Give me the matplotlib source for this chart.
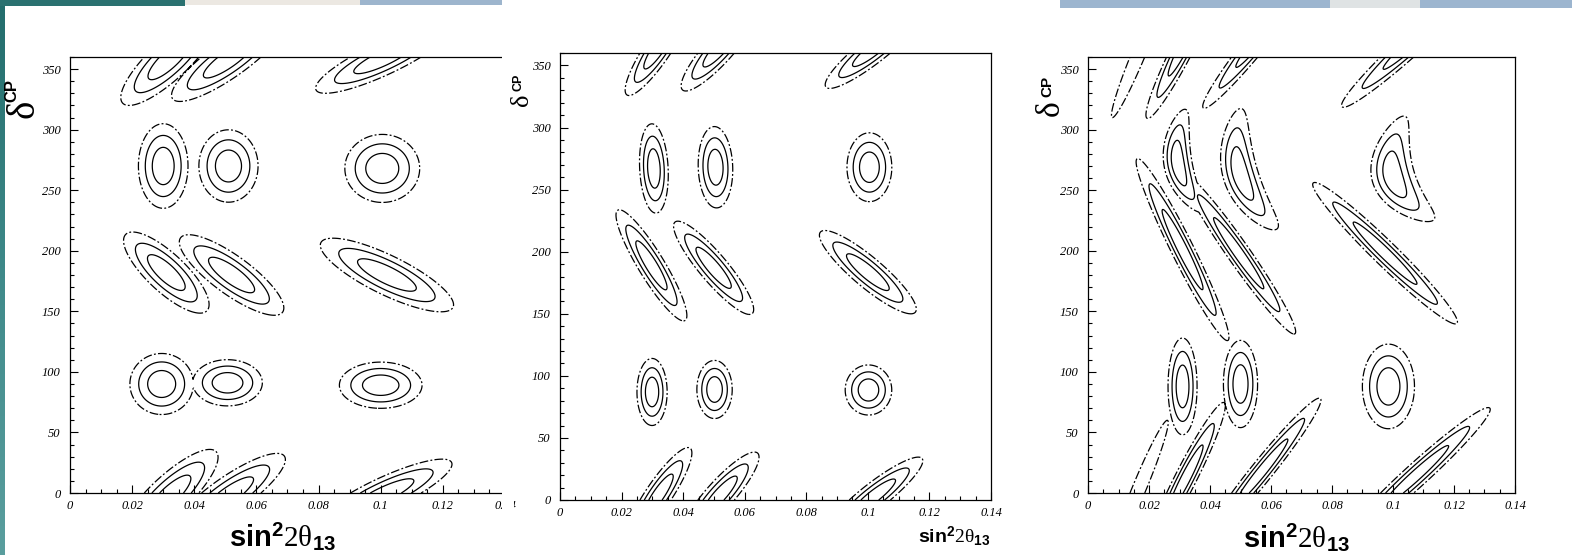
import numpy as np
import matplotlib
matplotlib.use("Agg")
import matplotlib.pyplot as plt
from matplotlib.patches import Rectangle
from matplotlib.ticker import MultipleLocator, FixedLocator, FixedFormatter

plt.rcParams["mathtext.fontset"] = "custom"
plt.rcParams["mathtext.rm"] = "Liberation Serif"
plt.rcParams["mathtext.it"] = "Liberation Serif:italic"
plt.rcParams["mathtext.bf"] = "Liberation Sans:bold"
plt.rcParams["mathtext.sf"] = "Liberation Sans"

W, H = 1572, 555
X_MAX = 0.14
D_MAX = 360.0
CHI2_LEVELS = [2.3, 6.18, 11.83]

X_TICKS = [0, 0.02, 0.04, 0.06, 0.08, 0.10, 0.12, 0.14]
X_TICK_LABELS = ["0", "0.02", "0.04", "0.06", "0.08", "0.1", "0.12", "0.14"]
D_TICKS = [0, 50, 100, 150, 200, 250, 300, 350]
D_TICK_LABELS = ["0", "50", "100", "150", "200", "250", "300", "350"]

# allowed regions: sin^2 2theta13, delta_CP, half length, half width
# (axis fractions, outer contour), tilt (deg), bend, chi2 floor
LEFT_BLOBS = [
    (0.0300, 270, 0.097, 0.057, 90, 0, 0),
    (0.0510, 270, 0.083, 0.068, 90, 0, 0),
    (0.1005, 268, 0.086, 0.078, 0, 0, 0),
    (0.0310, 182, 0.128, 0.044, -43, 0, 0),
    (0.0520, 180, 0.145, 0.044, -36, 0, 0),
    (0.1020, 180, 0.169, 0.045, -26, 0, 0),
    (0.0295, 90, 0.073, 0.070, 0, 0, 0),
    (0.0507, 91, 0.080, 0.053, 0, 0, 0),
    (0.1000, 89, 0.095, 0.053, 0, 0, 0),
    (0.0320, 358, 0.147, 0.045, 43, 0, 0),
    (0.0510, 358, 0.157, 0.042, 35, 0, 0),
    (0.1010, 359, 0.172, 0.038, 25, 0, 0),
]

MIDDLE_BLOBS = [
    (0.0305, 267, 0.100, 0.033, 93, 0, 0),
    (0.0505, 268, 0.091, 0.040, 92, 0, 0),
    (0.1005, 268, 0.077, 0.052, 90, 0, 0),
    (0.0297, 189, 0.146, 0.030, -57.6, 0, 0),
    (0.0499, 187, 0.136, 0.032, -48.7, 0, 0),
    (0.1000, 183.5, 0.142, 0.034, -39, 0, 0),
    (0.0299, 87, 0.075, 0.035, 90, 0, 0),
    (0.0502, 89, 0.065, 0.041, 90, 0, 0),
    (0.1002, 88.6, 0.056, 0.054, 90, 0, 0),
    (0.0320, 364, 0.128, 0.030, 55, 0, 0),
    (0.0520, 364, 0.128, 0.032, 47, 0, 0),
    (0.1020, 363, 0.140, 0.030, 37, 0, 0),
]

RIGHT_BLOBS = [
    (0.0295, 272, 0.120, 0.033, 100, -2.5, 0),
    (0.0500, 263, 0.145, 0.041, 107, -2.0, 0),
    (0.1000, 262, 0.125, 0.050, 106, -3.7, 0),
    (0.0310, 201, 0.234, 0.026, -63, 0, 0),
    (0.0494, 198, 0.227, 0.026, -54.5, 0, 0),
    (0.0974, 198, 0.233, 0.028, -43.7, 0, 0),
    (0.0310, 88, 0.111, 0.034, 90, 0, 0),
    (0.0500, 90, 0.100, 0.040, 90, 0, 0),
    (0.0985, 88, 0.097, 0.061, 90, 0, 0),
    (0.0170, 5, 0.166, 0.016, 67, 0, 8.5),
    (0.0320, 12, 0.196, 0.025, 62.6, 0, 0),
    (0.0570, 18, 0.216, 0.025, 50.6, 0, 0),
    (0.1075, 14.5, 0.232, 0.027, 41.7, 0, 0),
]


def chi2_map(blobs, xs, ds):
    X, D = np.meshgrid(xs, ds)
    u = X / X_MAX
    v = D / D_MAX
    top = CHI2_LEVELS[-1]
    field = np.full(X.shape, 1e3)
    for x0, d0, a, b, ang, bend, floor in blobs:
        t = np.deg2rad(ang)
        for wrap in (-1, 0, 1):  # delta_CP is periodic
            du = u - x0 / X_MAX
            dv = v - d0 / D_MAX - wrap
            s = du * np.cos(t) + dv * np.sin(t)
            n = -du * np.sin(t) + dv * np.cos(t) - bend * s ** 2
            q = (s / a) ** 2 + (n / b) ** 2
            field = np.minimum(field, floor + (top - floor) * q)
    return field


def px_rect(left, top, right, bottom):
    return [left / W, 1 - bottom / H, (right - left) / W, (bottom - top) / H]


fig = plt.figure(figsize=(W / 100, H / 100), dpi=100)
fig.patch.set_facecolor("white")

xs = np.linspace(0, X_MAX, 701)
ds = np.linspace(0, D_MAX, 721)

panels = [
    (LEFT_BLOBS, px_rect(70, 57, 505, 493)),
    (MIDDLE_BLOBS, px_rect(560, 53, 991, 500)),
    (RIGHT_BLOBS, px_rect(1088, 57, 1515, 493)),
]

axes = []
for blobs, rect in panels:
    ax = fig.add_axes(rect)
    field = chi2_map(blobs, xs, ds)
    ax.contour(xs, ds, field, levels=CHI2_LEVELS, colors="black",
               linewidths=0.9,
               linestyles=["solid", "solid", (0, (7, 1.8, 1.5, 1.8))])
    ax.set_xlim(0, X_MAX)
    ax.set_ylim(0, D_MAX)
    ax.xaxis.set_major_locator(FixedLocator(X_TICKS))
    ax.xaxis.set_major_formatter(FixedFormatter(X_TICK_LABELS))
    ax.yaxis.set_major_locator(FixedLocator(D_TICKS))
    ax.yaxis.set_major_formatter(FixedFormatter(D_TICK_LABELS))
    ax.xaxis.set_minor_locator(MultipleLocator(0.005))
    ax.yaxis.set_minor_locator(MultipleLocator(10))
    ax.tick_params(which="both", direction="in", width=0.8, colors="black")
    ax.tick_params(which="major", length=6)
    ax.tick_params(which="minor", length=3)
    ax.tick_params(axis="x", pad=5)
    ax.tick_params(axis="y", pad=7)
    for lab in ax.get_xticklabels() + ax.get_yticklabels():
        lab.set_fontfamily("Liberation Serif")
        lab.set_fontstyle("italic")
        lab.set_fontsize(9)
    for sp in ax.spines.values():
        sp.set_linewidth(0.9)
    axes.append(ax)

# the left picture is cut on its right side
fig.add_artist(Rectangle((501.5 / W, 0), 12.5 / W, 1, transform=fig.transFigure,
                         facecolor="white", edgecolor="none", zorder=10))

xlabel = r"$\mathbf{sin}^{\mathbf{2}}\mathrm{2\theta}_{\mathbf{13}}$"
fig.text(283 / W, 1 - 537 / H, xlabel, fontsize=21, ha="center", va="center")
fig.text(954 / W, 1 - 536 / H, xlabel, fontsize=14, ha="center", va="center")
fig.text(1297 / W, 1 - 538 / H, xlabel, fontsize=21, ha="center", va="center")

# delta_CP axis titles
for dx, dy, dsize, cx, cy, csize in [(24, 109, 28, 12, 90, 12),
                                     (522, 100, 19, 519, 82, 9),
                                     (1051, 108, 24, 1047, 86, 11)]:
    fig.text(dx / W, 1 - dy / H, "δ", family="Liberation Serif", fontsize=dsize,
             rotation=90, ha="center", va="center", zorder=12)
    fig.text(cx / W, 1 - cy / H, "CP", family="Liberation Sans", weight="bold",
             fontsize=csize, rotation=90, ha="center", va="center", zorder=12)

# slide decoration: header bars and left edge strip
bars = [
    (0, 185, 6, "#2a7170"),
    (185, 360, 5, "#ece8e2"),
    (360, 502, 5, "#9db5cd"),
    (1060, 1572, 8, "#9cb5cf"),
    (1330, 1420, 8, "#dfe3e4"),
]
for x0, x1, h, c in bars:
    fig.add_artist(Rectangle((x0 / W, 1 - h / H), (x1 - x0) / W, h / H,
                             transform=fig.transFigure, facecolor=c,
                             edgecolor="none", zorder=11))

strip = fig.add_axes([0, 0, 5 / W, 1])
grad = np.linspace(0, 1, 256).reshape(-1, 1)
strip.imshow(grad, aspect="auto", origin="upper",
             cmap=matplotlib.colors.LinearSegmentedColormap.from_list(
                 "edge", ["#236d6c", "#3f8a8a", "#5a9e9e"]))
strip.set_axis_off()

fig.savefig("out.png", dpi=100)
